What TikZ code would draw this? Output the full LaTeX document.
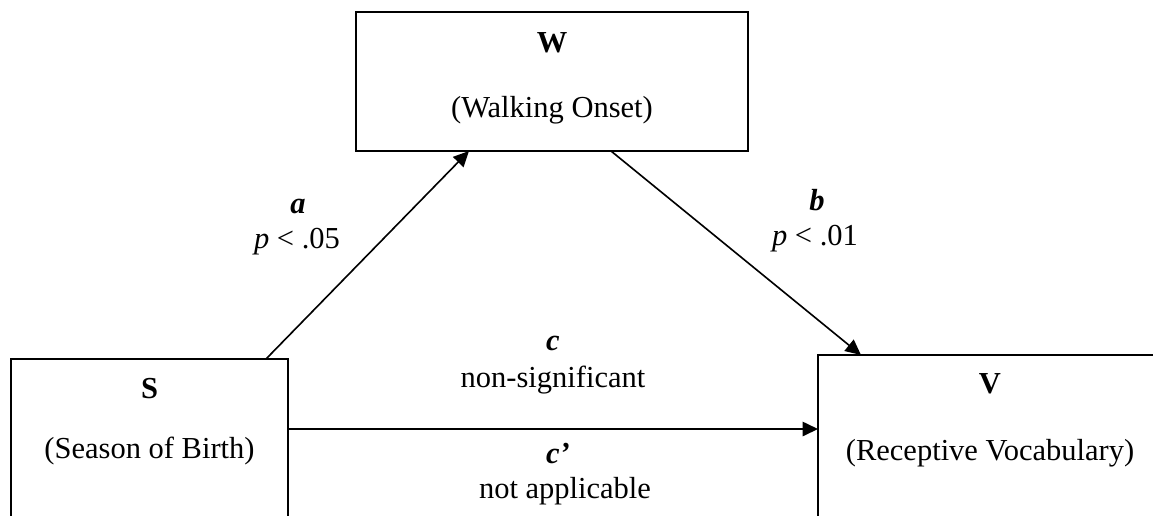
\documentclass[tikz,border=0pt]{standalone}
\usepackage{fontspec}
\setmainfont{Liberation Serif}
\usetikzlibrary{arrows.meta}

\tikzset{
  box/.style={draw, line width=0.85pt, outer sep=0pt, inner sep=0pt},
  conn/.style={line width=0.65pt, -{Triangle[length=6.2pt,width=5.8pt]}},
  txt/.style={anchor=base, inner sep=0pt, font=\fontsize{12.2pt}{14pt}\selectfont}
}

\begin{document}
\begin{tikzpicture}[x=0.4pt, y=-0.4pt]
    \useasboundingbox (0,0) rectangle (1153,515);
    \clip (0,0) rectangle (1153,515);
    % boxes (S and V run past the lower edge)
    \node[box, minimum width=156.8pt, minimum height=55.6pt] (W) at (552,81.5) {};
    \node[box, minimum width=110.8pt, minimum height=80pt] (S) at (149.5,459) {};
    \node[box, minimum width=137.6pt, minimum height=80pt] (V) at (990,455) {};
    \node[txt] (Wname) at (552,52) {\textbf{W}};
    \node[txt] (Wtext) at (552,117) {(Walking Onset)};
    \node[txt] (Sname) at (149.5,398) {\textbf{S}};
    \node[txt] (Stext) at (149.5,458) {(Season of Birth)};
    \node[txt] (Vname) at (990,393) {\textbf{V}};
    \node[txt] (Vtext) at (990,460) {(Receptive Vocabulary)};
    % paths
    \draw[conn] ([xshift=-8.8pt]S.north east) -- ([xshift=45.2pt]W.south west);
    \draw[conn] ([xshift=-54.8pt]W.south east) -- ([xshift=17.2pt]V.north west);
    \draw[conn] ([yshift=-28pt]S.north east) coordinate (cstart) -- (cstart -| V.west);
    % path labels
    \node[txt] (lblA) at (298,213) {\textbf{\textit{a}}};
    \node[txt] (pA) at (297,248) {\textit{p} < .05};
    \node[txt] (lblB) at (817,210) {\textbf{\textit{b}}};
    \node[txt] (pB) at (815,245) {\textit{p} < .01};
    \node[txt] (lblC) at (553,350) {\textbf{\textit{c}}};
    \node[txt] (sigC) at (553,387) {non-significant};
    \node[txt] (lblCp) at (558,463) {\textbf{\textit{c'}}};
    \node[txt] (sigCp) at (565,498) {not applicable};
\end{tikzpicture}
\end{document}
